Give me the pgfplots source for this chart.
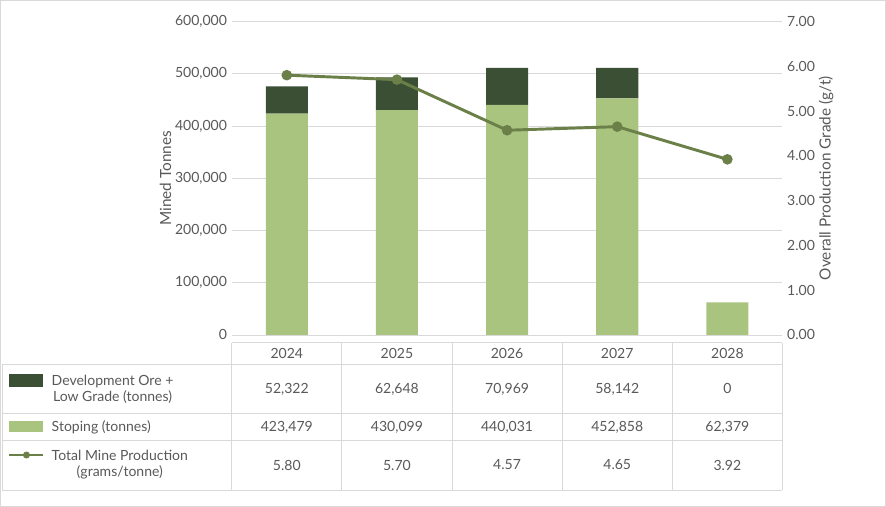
\documentclass[border=0pt]{standalone}
\usepackage{pgfplots}
\pgfplotsset{compat=1.18}
\usepackage{fontspec}
\setmainfont{Lato}
\definecolor{lg}{HTML}{A9C47F}
\definecolor{dg}{HTML}{3B4F35}
\definecolor{ln}{HTML}{6B7F48}
\definecolor{tx}{HTML}{595959}
\definecolor{gl}{HTML}{D9D9D9}
\begin{document}
\begin{tikzpicture}[x=0.75pt,y=-0.75pt,font=\fontsize{10.5}{12}\selectfont]
\draw[gl,line width=0.6pt] (1,1) rectangle (885,506);
\pgfplotsset{base/.style={at={(174pt,-251.25pt)},anchor=south west,scale only axis,width=412.5pt,height=234.75pt,
 x=\pgfkeysvalueof{/pgfplots/width},
 xmin=-0.5,xmax=4.5,clip=false,
 /pgf/number format/assume math mode=true,
 tick label style={color=tx,font=\fontsize{10.5}{12}\selectfont},
 label style={color=tx,font=\fontsize{11.5}{13}\selectfont},
 major tick length=0pt}}
\pgfplotsset{base/.style={at={(174pt,-251.25pt)},anchor=south west,scale only axis,width=412.5pt,height=234.75pt,
 xmin=-0.5,xmax=4.5,clip=false,
 /pgf/number format/assume math mode=true,
 tick label style={color=tx,font=\fontsize{10.5}{12}\selectfont},
 label style={color=tx,font=\fontsize{11.5}{13}\selectfont},
 major tick length=0pt}}
\begin{axis}[base,ymin=0,ymax=600000,ytick={0,100000,...,600000},
 scaled y ticks=false,yticklabel style={/pgf/number format/fixed,/pgf/number format/1000 sep={,}},
 ymajorgrids,grid style={gl},axis line style={draw=none},
 xtick=\empty,ybar stacked,bar width=31.5pt,ylabel={Mined Tonnes},
 ylabel style={yshift=-4pt}]
\addplot[fill=lg,draw=none] coordinates {(0,423479)(1,430099)(2,440031)(3,452858)(4,62379)};
\addplot[fill=dg,draw=none] coordinates {(0,52322)(1,62648)(2,70969)(3,58142)(4,0)};
\end{axis}
\begin{axis}[base,ymin=0,ymax=7,ytick={0,1,...,7},axis y line*=right,axis x line=none,
 axis line style={draw=none},
 yticklabel style={/pgf/number format/fixed,/pgf/number format/fixed zerofill,/pgf/number format/precision=2},
 ylabel={Overall Production Grade (g/t)},ylabel style={yshift=4pt}]
\addplot[ln,line width=2.2pt,mark=*,mark size=2.8pt] coordinates {(0,5.80)(1,5.70)(2,4.57)(3,4.65)(4,3.92)};
\end{axis}
% table
\draw[gl,line width=0.6pt] (232,343) -- (782,343);
\draw[gl,line width=0.6pt] (3,365) -- (782,365);
\draw[gl,line width=0.6pt] (3,413) -- (782,413);
\draw[gl,line width=0.6pt] (3,440) -- (782,440);
\draw[gl,line width=0.6pt] (3,490) -- (782,490);
\draw[gl,line width=0.6pt] (3,365) -- (3,490);
\foreach \x in {232,342,452,562,672,782} \draw[gl,line width=0.6pt] (\x,343) -- (\x,490);
\foreach \l [count=\i from 0] in {2024,2025,2026,2027,2028} \node[tx] at (287+110*\i,354) {\l};
\foreach \l [count=\i from 0] in {52{,}322,62{,}648,70{,}969,58{,}142,0} \node[tx] at (287+110*\i,389) {\l};
\foreach \l [count=\i from 0] in {423{,}479,430{,}099,440{,}031,452{,}858,62{,}379} \node[tx] at (287+110*\i,427) {\l};
\foreach \l [count=\i from 0] in {5.80,5.70,4.57,4.65,3.92} \node[tx] at (287+110*\i,465) {\l};
\fill[dg] (10,374) rectangle (44,387);
\fill[lg] (10,421) rectangle (44,432);
\draw[ln,line width=2.2pt] (10,455) -- (44,455);
\fill[ln] (27,455) circle (3.5);
\node[tx,align=center,inner sep=0,anchor=west] at (52,389) {Development Ore +\\Low Grade (tonnes)};
\node[tx,inner sep=0,anchor=west] at (52,427) {Stoping (tonnes)};
\node[tx,align=center,inner sep=0,anchor=west] at (52,465) {Total Mine Production\\(grams/tonne)};
\end{tikzpicture}
\end{document}
